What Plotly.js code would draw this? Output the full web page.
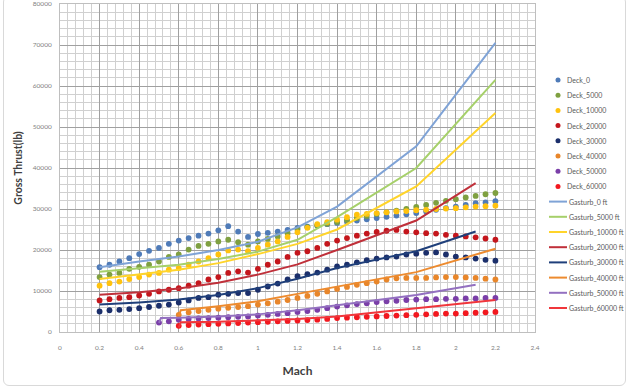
<!DOCTYPE html>
<html>
<head>
<meta charset="utf-8">
<script src="https://cdn.plot.ly/plotly-3.0.1.min.js"></script>
<style>
html,body{margin:0;padding:0;background:#fff;}
#wrap{position:relative;width:626px;height:390px;overflow:hidden;}
#chart{position:absolute;left:0;top:0;width:626px;height:390px;}
#frame{position:absolute;left:3px;top:-4px;width:621px;height:388px;border:1px solid #d9d9d9;border-radius:6px;pointer-events:none;}
</style>
</head>
<body>
<div id="wrap"><div id="chart"></div><div id="frame"></div></div>
<script>
// ---- data ----
var machDeck = [0.2,0.25,0.3,0.35,0.4,0.45,0.5,0.55,0.6,0.65,0.7,0.75,0.8,0.85,0.9,0.95,1.0,1.05,1.1,1.15,1.2,1.25,1.3,1.35,1.4,1.45,1.5,1.55,1.6,1.65,1.7,1.75,1.8,1.85,1.9,1.95,2.0,2.05,2.1,2.15,2.2];
var machFrom05 = [0.5,0.55,0.6,0.65,0.7,0.75,0.8,0.85,0.9,0.95,1.0,1.05,1.1,1.15,1.2,1.25,1.3,1.35,1.4,1.45,1.5,1.55,1.6,1.65,1.7,1.75,1.8,1.85,1.9,1.95,2.0,2.05,2.1,2.15,2.2];
var machFrom06 = [0.6,0.65,0.7,0.75,0.8,0.85,0.9,0.95,1.0,1.05,1.1,1.15,1.2,1.25,1.3,1.35,1.4,1.45,1.5,1.55,1.6,1.65,1.7,1.75,1.8,1.85,1.9,1.95,2.0,2.05,2.1,2.15,2.2];

var deck_0 = [15800,16400,17200,18000,19000,19800,20500,21500,22300,22900,23500,24000,24800,25800,24500,23200,23900,24200,24500,24900,25400,25700,26000,26300,26600,26900,27200,27500,27800,28100,28400,28700,29000,29400,29800,30200,30600,31000,31400,31600,31900];
var deck_5000 = [13400,14000,14400,15400,15900,16400,17200,18300,18900,20100,21000,21500,22100,22500,21900,21300,22100,22700,23300,24100,25000,25600,26000,26400,26800,27300,27800,28300,28800,29200,29600,30000,30500,31000,31500,32000,32400,32800,33200,33600,33900];
var deck_10000 = [11300,11900,12300,12900,13400,14000,14400,15200,15600,16400,17200,18000,18900,19900,20100,19700,20500,21300,22100,23200,24300,25400,26300,26800,27400,28000,28600,28800,29000,29200,29400,29500,29700,29800,30000,30100,30200,30400,30600,30700,30800];
var deck_20000 = [7700,8000,8300,8500,8900,9300,9900,10300,10700,11300,11900,12800,13400,14400,14800,14500,15400,16400,17200,18300,19300,19700,20500,21500,22300,22900,23500,24000,24400,24700,24900,24500,24300,24100,24000,23700,23500,23300,23100,22800,22500];
var deck_30000 = [5000,5300,5400,5600,5800,6100,6400,6700,7200,7700,8300,8500,9100,9300,9500,9500,10300,11100,11800,12800,13600,14100,14500,15200,16000,16400,17000,17500,17900,18200,18400,18900,19100,19300,19400,18900,18400,18200,17900,17600,17400];
var deck_40000 = [4200,4800,5100,5400,5700,5900,6100,6300,6700,7000,7400,7800,8300,8800,9300,9900,10500,11000,11500,11900,12300,12800,13100,13200,13200,13200,13300,13400,13400,13300,13200,13000,12800];
var deck_50000 = [2300,2600,3000,3200,3300,3400,3500,3600,3700,3800,4000,4200,4400,4600,4900,5100,5400,5800,6200,6500,6800,7000,7300,7500,7600,7800,7900,8000,8000,8100,8100,8200,8200,8300,8300];
var deck_60000 = [1500,1700,1800,1900,2000,2100,2200,2300,2400,2500,2600,2700,2800,2900,3000,3200,3400,3500,3600,3700,3800,3900,4000,4100,4200,4300,4400,4500,4500,4600,4700,4800,4900];

var machGT = [0.2,0.4,0.6,0.8,1.0,1.2,1.4,1.8,2.2];
var machGT21 = [0.2,0.4,0.6,0.8,1.0,1.2,1.4,1.8,2.1];
var machGT40 = [0.6,0.61,0.8,1.0,1.2,1.4,1.8,2.2];
var machGT50 = [0.5,0.51,0.6,0.8,1.0,1.2,1.4,1.8,2.1];
var machGT60 = [0.6,0.61,0.8,1.0,1.2,1.4,1.8,2.2];

var gt_0 = [15800,17200,18400,20000,22000,25500,30600,45300,70500];
var gt_5000 = [14700,15500,16400,17800,19600,22500,28000,40000,61500];
var gt_10000 = [12900,14000,15200,16800,19000,21500,25000,35500,53400];
var gt_20000 = [9100,9700,10600,12000,14000,16500,20000,27200,36300];
var gt_30000 = [6700,7200,7900,9000,10700,13000,15600,19700,24500];
var gt_40000 = [3800,5300,6300,7500,9300,11100,14600,20300];
var gt_50000 = [2200,3400,3500,3800,4300,5300,6500,9000,11500];
var gt_60000 = [1100,2400,2500,2800,3200,3800,5800,7800];

var deckNames = ['Deck_0','Deck_5000','Deck_10000','Deck_20000','Deck_30000','Deck_40000','Deck_50000','Deck_60000'];
var gtNames = ['Gasturb_0 ft','Gasturb_5000 ft','Gasturb_10000 ft','Gasturb_20000 ft','Gasturb_30000 ft','Gasturb_40000 ft','Gasturb_50000 ft','Gasturb_60000 ft'];
var xTicks = [0,0.2,0.4,0.6,0.8,1,1.2,1.4,1.6,1.8,2,2.2,2.4];
var xTickText = ['0','0.2','0.4','0.6','0.8','1','1.2','1.4','1.6','1.8','2','2.2','2.4'];

// ---- styles ----
var deckColors = ['#4F7BB8','#7FA040','#FFC20E','#C4161C','#1B2F6B','#E8862A','#7A3EA8','#F2181F'];
var gtColors = ['#7FA3D6','#A6D06A','#FFD42A','#C0303A','#1F3F7A','#ED8B2F','#9370C0','#F0363B'];

var deckX = [machDeck,machDeck,machDeck,machDeck,machDeck,machFrom06,machFrom05,machFrom06];
var deckY = [deck_0,deck_5000,deck_10000,deck_20000,deck_30000,deck_40000,deck_50000,deck_60000];
var gtX = [machGT,machGT,machGT,machGT21,machGT21,machGT40,machGT50,machGT60];
var gtY = [gt_0,gt_5000,gt_10000,gt_20000,gt_30000,gt_40000,gt_50000,gt_60000];

var traces = [];
for (var i = 0; i < 8; i++) {
  traces.push({x: deckX[i], y: deckY[i], name: deckNames[i], type: 'scatter', mode: 'markers',
    marker: {color: deckColors[i], size: 5.8}, showlegend: false, hoverinfo: 'x+y+name'});
}
for (var j = 0; j < 8; j++) {
  traces.push({x: gtX[j], y: gtY[j], name: gtNames[j], type: 'scatter', mode: 'lines',
    line: {color: gtColors[j], width: 2}, showlegend: false, hoverinfo: 'x+y+name'});
}

// plot area geometry (px) for legend placement
var L = 60, R = 535, T = 4, B = 332;
function px2x(p){ return (p - L) / (R - L); }
function px2y(p){ return (B - p) / (B - T); }

var shapes = [], annotations = [];
var allNames = deckNames.concat(gtNames);
var allColors = deckColors.concat(gtColors);
for (var k = 0; k < 16; k++) {
  var py = 80 + k * 15.2;
  if (k < 8) {
    shapes.push({type: 'circle', xref: 'paper', yref: 'paper',
      x0: px2x(555.5), x1: px2x(560.5), y0: px2y(py + 2.5), y1: px2y(py - 2.5),
      fillcolor: allColors[k], line: {width: 0}});
  } else {
    shapes.push({type: 'line', xref: 'paper', yref: 'paper',
      x0: px2x(549), x1: px2x(567), y0: px2y(py), y1: px2y(py),
      line: {color: allColors[k], width: 2}});
  }
  annotations.push({xref: 'paper', yref: 'paper', x: px2x(k < 8 ? 565 : 567), y: px2y(py),
    xanchor: 'left', yanchor: 'middle', showarrow: false, text: allNames[k],
    font: {family: 'Lato, sans-serif', size: 7, color: '#595959'}});
}

var layout = {
  width: 626, height: 390,
  margin: {l: L, r: 626 - R, t: T, b: 390 - B, pad: 0},
  paper_bgcolor: '#ffffff', plot_bgcolor: '#ffffff',
  font: {family: 'Lato, sans-serif', color: '#595959'},
  showlegend: false,
  xaxis: {
    range: [0, 2.4], tickvals: xTicks, ticktext: xTickText,
    showgrid: true, gridcolor: '#a0a0a0', gridwidth: 1,
    minor: {dtick: 0.04, showgrid: true, gridcolor: '#d0d0d0', gridwidth: 1},
    zeroline: false, showline: true, mirror: true, linecolor: '#bfbfbf', linewidth: 1,
    ticks: 'outside', ticklen: 9, tickcolor: 'rgba(0,0,0,0)',
    tickfont: {size: 6.5, color: '#7f7f7f'},
    title: {text: 'Mach', font: {size: 12, color: '#404040', family: 'Lato, sans-serif', weight: 'bold'}, standoff: 16},
    fixedrange: true
  },
  yaxis: {
    range: [0, 80000], dtick: 10000, tickformat: 'd',
    showgrid: true, gridcolor: '#a0a0a0', gridwidth: 1,
    minor: {dtick: 2000, showgrid: true, gridcolor: '#d0d0d0', gridwidth: 1},
    zeroline: false, showline: true, mirror: true, linecolor: '#bfbfbf', linewidth: 1,
    ticks: 'outside', ticklen: 6, tickcolor: 'rgba(0,0,0,0)',
    tickfont: {size: 6.5, color: '#7f7f7f'},
    title: {text: 'Gross Thrust(lb)', font: {size: 10.5, color: '#404040', family: 'Lato, sans-serif', weight: 'bold'}, standoff: 8},
    fixedrange: true
  },
  shapes: shapes,
  annotations: annotations
};

Plotly.newPlot('chart', traces, layout, {displayModeBar: false, staticPlot: true});
</script>
</body>
</html>
